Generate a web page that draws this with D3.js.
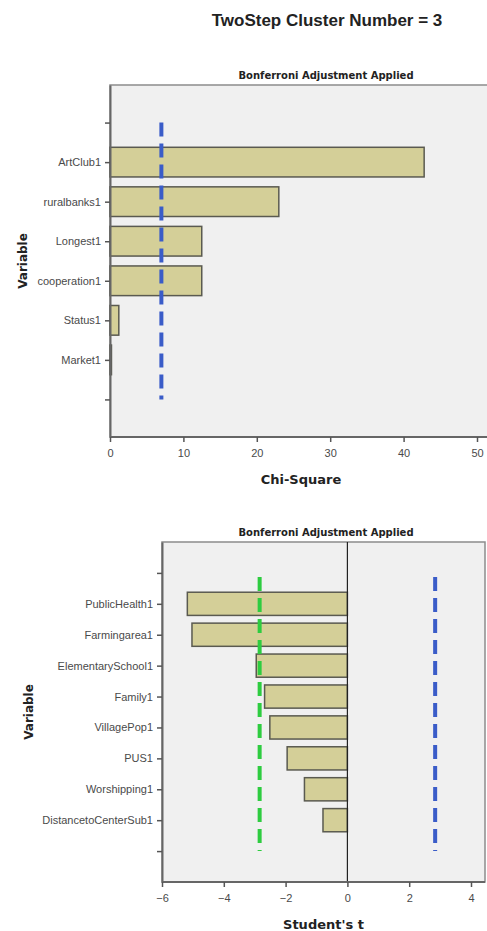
<!DOCTYPE html>
<html>
<head>
<meta charset="utf-8">
<script src="https://cdn.jsdelivr.net/npm/d3@7"></script>
<style>
  body { margin: 0; background: #fff; }
  svg { display: block; font-family: "Liberation Sans", Arial, sans-serif; }
</style>
</head>
<body>
<script>
var width = 487;
var height = 931;

// chart 1: chi-square
var chiVars = ["ArtClub1", "ruralbanks1", "Longest1", "cooperation1", "Status1", "Market1"];
var chiValues = [42.8, 23.0, 12.5, 12.5, 1.2, 0.2];
var chiCritical = [7.0];
var chiTicks = [0, 10, 20, 30, 40, 50];

// chart 2: student's t
var tVars = ["PublicHealth1", "Farmingarea1", "ElementarySchool1", "Family1", "VillagePop1", "PUS1", "Worshipping1", "DistancetoCenterSub1"];
var tValues = [-5.18, -5.03, -2.95, -2.68, -2.51, -1.95, -1.39, -0.79];
var tCritical = [-2.84, 2.84];
var tTicks = [-6, -4, -2, 0, 2, 4];

var titleFont = "'DejaVu Sans', Verdana, sans-serif";

var svg = d3.select("body").append("svg")
    .attr("width", width)
    .attr("height", height);

svg.append("text")
    .attr("x", 327)
    .attr("y", 26)
    .text("TwoStep Cluster Number = 3")
    .style("text-anchor", "middle")
    .style("font-family", "'Liberation Sans', Arial, sans-serif")
    .style("font-weight", "bold")
    .style("font-size", "17px")
    .style("fill", "#222");

var drawPanel = function(opt) {
    var g = svg.append("g");
    var x = d3.scaleLinear().domain(opt.xDomain).range([opt.left, opt.xEnd]);
    var cats = ["_top"].concat(opt.vars).concat(["_bottom"]);
    var y = d3.scalePoint().domain(cats).range([opt.top, opt.bottom]).padding(opt.pad);
    var barH = y.step() * 0.75;

    g.append("text")
        .attr("x", 326)
        .attr("y", opt.top - 6)
        .text("Bonferroni Adjustment Applied")
        .style("text-anchor", "middle")
        .style("font-family", titleFont)
        .style("font-weight", "bold")
        .style("font-size", "10px")
        .style("fill", "#222");

    g.append("rect")
        .attr("x", opt.left)
        .attr("y", opt.top)
        .attr("width", opt.right - opt.left)
        .attr("height", opt.bottom - opt.top)
        .attr("fill", "#f0f0f0")
        .style("stroke", "#8c8c8c")
        .style("stroke-width", 1.5);

    g.selectAll(".bar")
        .data(opt.values)
        .enter().append("rect")
        .attr("class", "bar")
        .attr("x", function(d) { return x(Math.min(0, d)); })
        .attr("y", function(d, i) { return y(opt.vars[i]) - barH / 2; })
        .attr("width", function(d) { return Math.abs(x(d) - x(0)); })
        .attr("height", barH)
        .attr("fill", "#d4cf98")
        .style("stroke", "#5a5a50")
        .style("stroke-width", 1.5);

    if (opt.zeroLine) {
        g.append("line")
            .attr("x1", x(0)).attr("x2", x(0))
            .attr("y1", opt.top).attr("y2", opt.bottom)
            .style("stroke", "#222")
            .style("stroke-width", 1.2);
    }

    // critical value lines, drawn over the bars
    g.selectAll(".crit")
        .data(opt.critical)
        .enter().append("line")
        .attr("class", "crit")
        .attr("x1", function(d) { return x(d); })
        .attr("x2", function(d) { return x(d); })
        .attr("y1", y("_top"))
        .attr("y2", y("_bottom"))
        .style("stroke", function(d) { return d < 0 ? "#2ecc40" : "#3a5cc8"; })
        .style("stroke-width", 4)
        .style("stroke-dasharray", "14,7")
        .style("stroke-dashoffset", opt.dashOffset);

    var yAxis = g.append("g")
        .attr("transform", "translate(" + opt.left + ",0)")
        .call(d3.axisLeft(y).tickSize(5).tickSizeOuter(0).tickPadding(4)
            .tickFormat(function(d) { return d.charAt(0) == "_" ? "" : d; }));

    var xAxis = g.append("g")
        .attr("transform", "translate(0," + opt.bottom + ")")
        .call(d3.axisBottom(x).tickValues(opt.ticks).tickSize(5).tickSizeOuter(0).tickPadding(7));
    xAxis.select(".domain").attr("d", "M" + opt.left + ",0H" + opt.right);

    [yAxis, xAxis].forEach(function(a) {
        a.select(".domain").style("stroke", "#666").style("stroke-width", 2);
        a.selectAll(".tick line").style("stroke", "#555").style("stroke-width", 1.5);
        a.selectAll(".tick text")
            .style("font-family", "'Liberation Sans', Arial, sans-serif")
            .style("font-size", "11px")
            .style("fill", "#4a4a4a");
    });

    g.append("text")
        .attr("x", (opt.left + opt.right) / 2)
        .attr("y", opt.bottom + 47)
        .text(opt.xTitle)
        .style("text-anchor", "middle")
        .style("font-family", titleFont)
        .style("font-weight", "bold")
        .style("font-size", "13px")
        .style("fill", "#222");

    g.append("text")
        .attr("transform", "translate(" + opt.yTitleX + "," + ((opt.top + opt.bottom) / 2) + ") rotate(-90)")
        .text("Variable")
        .style("text-anchor", "middle")
        .style("font-family", titleFont)
        .style("font-weight", "bold")
        .style("font-size", "12px")
        .style("fill", "#222");
};

drawPanel({
    vars: chiVars, values: chiValues, critical: chiCritical, ticks: chiTicks,
    xDomain: [0, 50], left: 110, xEnd: 477, right: 492, top: 85, bottom: 437,
    pad: 0.95, xTitle: "Chi-Square", yTitleX: 27, zeroLine: false, dashOffset: 0
});

drawPanel({
    vars: tVars, values: tValues, critical: tCritical, ticks: tTicks,
    xDomain: [-6, 4], left: 162, xEnd: 471, right: 485, top: 542, bottom: 882,
    pad: 1, xTitle: "Student's t", yTitleX: 33, zeroLine: true, dashOffset: 17
});
</script>
</body>
</html>
